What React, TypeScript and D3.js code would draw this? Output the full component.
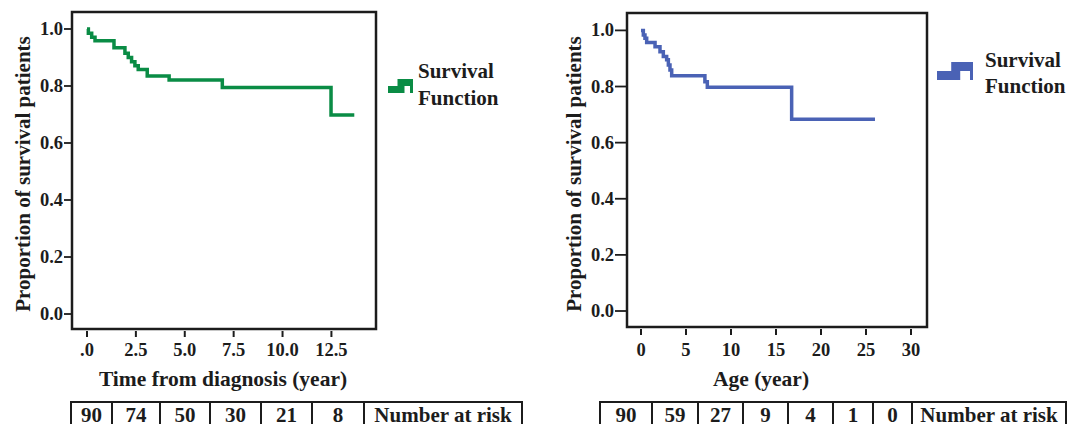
import React from 'react';
import * as d3 from 'd3';

const width = 1078;
const height = 424;
const font = '"Liberation Serif", "Times New Roman", serif';
const ink = '#1c1c1c';

// survival curves (time in years, proportion surviving)
const diagTimes = [0, 0.07, 0.24, 0.41, 1.38, 1.94, 2.11, 2.28, 2.45, 2.62, 3.08, 4.2, 6.92, 12.48, 13.67];
const diagSurv = [1.0, 0.985, 0.971, 0.959, 0.934, 0.915, 0.9, 0.885, 0.871, 0.858, 0.835, 0.821, 0.795, 0.698, 0.698];
const ageTimes = [0, 0.26, 0.44, 0.63, 1.56, 2.11, 2.48, 2.85, 3.04, 3.22, 3.41, 7.1, 7.37, 16.74, 26.0];
const ageSurv = [1.0, 0.984, 0.972, 0.957, 0.942, 0.924, 0.907, 0.895, 0.877, 0.859, 0.838, 0.817, 0.797, 0.683, 0.683];

const yTicks = [0, 0.2, 0.4, 0.6, 0.8, 1.0];
const yTickLabels = ['0.0', '0.2', '0.4', '0.6', '0.8', '1.0'];
const diagXTicks = [0, 2.5, 5, 7.5, 10, 12.5];
const diagXTickLabels = ['.0', '2.5', '5.0', '7.5', '10.0', '12.5'];
const ageXTicks = [0, 5, 10, 15, 20, 25, 30];
const ageXTickLabels = ['0', '5', '10', '15', '20', '25', '30'];

const diagRisk = ['90', '74', '50', '30', '21', '8'];
const ageRisk = ['90', '59', '27', '9', '4', '1', '0'];
const riskLabel = 'Number at risk';
const legendLines = ['Survival', 'Function'];
const yTitle = 'Proportion of survival patients';

const panels = [
  {
    times: diagTimes, surv: diagSurv, color: '#0a8c45',
    xTicks: diagXTicks, xTickLabels: diagXTickLabels, xTitle: 'Time from diagnosis (year)',
    risk: diagRisk,
    box: { x0: 72, x1: 376, y0: 12, y1: 329 },
    xDomain: [-0.767, 14.78], yDomain: [-0.0526, 1.0596],
    yTickLen: 8, yTitleX: 23, xTitleX: 223,
    cols: [71, 112, 160, 210, 261, 312, 364, 522],
    legend: { x: 388, y: 86, w: 25, t: 7, textX: 418, base1: 78, base2: 105 },
  },
  {
    times: ageTimes, surv: ageSurv, color: '#4a62b5',
    xTicks: ageXTicks, xTickLabels: ageXTickLabels, xTitle: 'Age (year)',
    risk: ageRisk,
    box: { x0: 627, x1: 927, y0: 13, y1: 327 },
    xDomain: [-1.556, 31.78], yDomain: [-0.057, 1.062],
    yTickLen: 12, yTitleX: 574, xTitleX: 761,
    cols: [600, 652, 698, 743, 788, 833, 873, 912, 1066],
    legend: { x: 937, y: 71, w: 36, t: 9, textX: 985, base1: 67, base2: 93 },
  },
];

function Panel({ p }: { p: any }) {
  const { box } = p;
  const x = d3.scaleLinear().domain(p.xDomain).range([box.x0, box.x1]);
  const y = d3.scaleLinear().domain(p.yDomain).range([box.y1, box.y0]);
  const pts: [number, number][] = p.times.map((t: number, i: number) => [t, p.surv[i]]);
  const line = d3.line<[number, number]>()
    .x(d => x(d[0]))
    .y(d => y(d[1]))
    .curve(d3.curveStepAfter);

  const lg = p.legend;
  const half = lg.t / 2;
  const cells = p.cols.slice(0, -1).map((c: number, i: number) => ({
    x0: c, x1: p.cols[i + 1],
    text: i < p.risk.length ? p.risk[i] : riskLabel,
  }));

  return (
    <g fontFamily={font} fontWeight="bold" fill={ink}>
      <path d={line(pts) || ''} fill="none" stroke={p.color} strokeWidth={3.5} />
      <rect x={box.x0} y={box.y0} width={box.x1 - box.x0} height={box.y1 - box.y0}
        fill="none" stroke={ink} strokeWidth={2.5} />

      {yTicks.map((t, i) => (
        <g key={'y' + i}>
          <line x1={box.x0 - p.yTickLen} x2={box.x0} y1={y(t)} y2={y(t)} stroke={ink} strokeWidth={1.8} />
          <text x={box.x0 - p.yTickLen - 1} y={y(t)} textAnchor="end" dominantBaseline="central" fontSize={18.5}>
            {yTickLabels[i]}
          </text>
        </g>
      ))}
      {p.xTicks.map((t: number, i: number) => (
        <g key={'x' + i}>
          <line x1={x(t)} x2={x(t)} y1={box.y1 + 2} y2={box.y1 + 8} stroke={ink} strokeWidth={2} />
          <text x={x(t)} y={356} textAnchor="middle" fontSize={18.5}>{p.xTickLabels[i]}</text>
        </g>
      ))}

      <text x={p.xTitleX} y={386} textAnchor="middle" fontSize={21.5}>{p.xTitle}</text>
      <text transform={`translate(${p.yTitleX},174) rotate(-90)`} textAnchor="middle"
        dominantBaseline="central" fontSize={21}>{yTitle}</text>

      <path d={`M${lg.x},${lg.y + half}H${lg.x + lg.w * 0.52}V${lg.y - half}H${lg.x + lg.w}`} fill="none"
        stroke={p.color} strokeWidth={lg.t} />
      <path d={`M${lg.x + lg.w - 1.5},${lg.y - half}V${lg.y + lg.t}`} fill="none" stroke={p.color} strokeWidth={3} />
      <text x={lg.textX} y={lg.base1} fontSize={21}>{legendLines[0]}</text>
      <text x={lg.textX} y={lg.base2} fontSize={21}>{legendLines[1]}</text>

      {cells.map((c: any, i: number) => (
        <g key={'c' + i}>
          <rect x={c.x0} y={402} width={c.x1 - c.x0} height={40} fill="none" stroke={ink} strokeWidth={2} />
          <text x={(c.x0 + c.x1) / 2} y={422} textAnchor="middle" fontSize={21}>{c.text}</text>
        </g>
      ))}
    </g>
  );
}

export default function App() {
  return (
    <svg width={width} height={height} style={{ position: 'absolute', left: 0, top: 0, background: '#fff' }}>
      {panels.map((p, i) => <Panel key={i} p={p} />)}
    </svg>
  );
}
